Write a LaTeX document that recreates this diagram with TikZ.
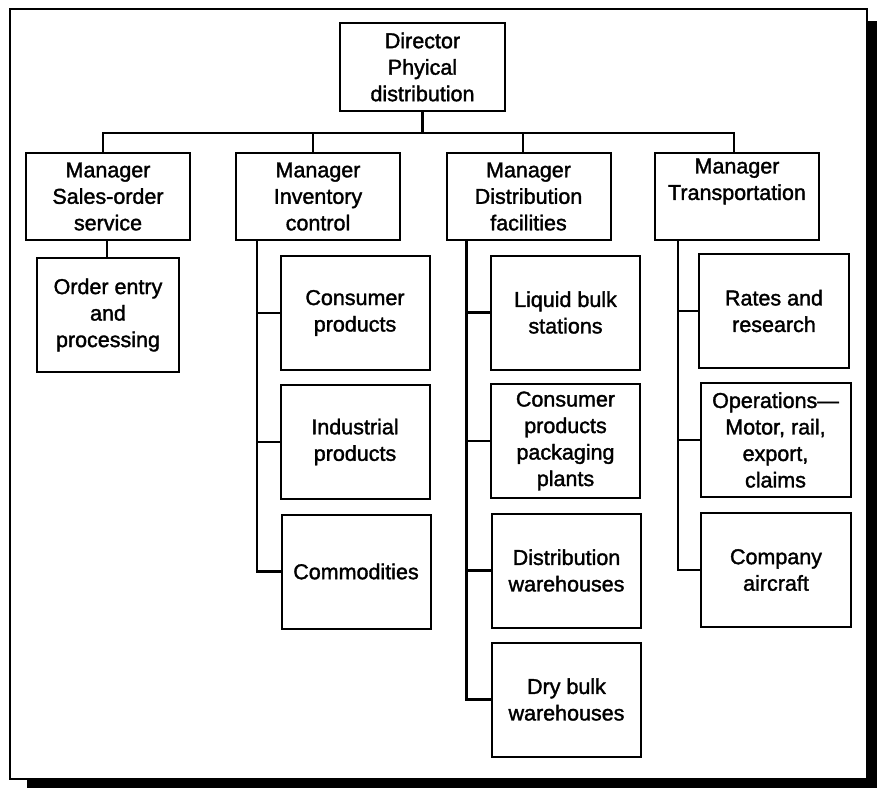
\documentclass[tikz,border=0pt]{standalone}
\usepackage{fontspec}
\newfontfamily\chartfont{Liberation Sans}[BoldFont={Liberation Sans},BoldFeatures={FakeBold=1.6}]
\begin{document}
\begin{tikzpicture}[x=1pt,y=-1pt,
  every node/.style={font=\chartfont\bfseries\fontsize{21.5}{26.5}\selectfont},
  box/.style={draw=black,line width=2pt,fill=white,inner sep=0pt,align=center},
  mgr/.style={box,minimum width=164pt,minimum height=87pt},
  unit/.style={box,minimum width=149pt,minimum height=114pt},
  link/.style={draw=black,line width=2.6pt,line cap=rect}]
\useasboundingbox (0,0) rectangle (877,788);
% frame with drop shadow
\fill[black] (27,21) rectangle (877,788);
\draw[line width=2pt,fill=white] (10,9) rectangle (867,779);

% top of the hierarchy
\node[box,minimum width=165pt,minimum height=88pt] (dir) at (422.5,67) {Director\\Phyical\\distribution};

% managers
\node[mgr] (sales) at (108,196.5) {Manager\\Sales-order\\service};
\node[mgr] (inv)   at (318,196.5) {Manager\\Inventory\\control};
\node[mgr] (fac)   at (528.5,196.5) {Manager\\Distribution\\facilities};
\node[mgr] (trn)   at (737,196.5) {Manager\\Transportation\\\strut};

% sales-order service
\node[box,minimum width=142pt,minimum height=114pt] (order) at (108,315) {Order entry\\and\\processing};

% inventory control
\node[unit] (inv1) at (355,313)   {Consumer\\products};
\node[unit] (inv2) at (355,442)   {Industrial\\products};
\node[unit] (inv3) at (356,571.5) {Commodities};

% distribution facilities
\node[unit] (fac1) at (565.5,312.5) {Liquid bulk\\stations};
\node[unit] (fac2) at (565.5,441)   {Consumer\\products\\packaging\\plants};
\node[unit] (fac3) at (566.5,570.5) {Distribution\\warehouses};
\node[unit] (fac4) at (566.5,699.5) {Dry bulk\\warehouses};

% transportation
\node[unit,minimum width=150pt] (trn1) at (774,311) {Rates and\\research};
\node[unit,minimum width=150pt] (trn2) at (775.5,440) {Operations—\\Motor, rail,\\export,\\claims};
\node[unit,minimum width=150pt] (trn3) at (776,570) {Company\\aircraft};

% connectors: director to managers
\coordinate (bus) at (422.5,133);
\draw[link] (dir.south) -- (bus);
\draw[link] ([xshift=-5pt]sales.north) |- (bus) -| ([xshift=-3pt]trn.north);
\draw[link] ([xshift=-5pt]inv.north) -- ([xshift=-5pt]inv.north |- bus);
\draw[link] ([xshift=-5.5pt]fac.north) -- ([xshift=-5.5pt]fac.north |- bus);

% connectors: managers to units
\draw[link] ([xshift=-1pt]sales.south) -- ([xshift=-1pt]order.north);
\draw[link] ([xshift=22pt]inv.south west) |- (inv3.west);
\draw[link] ([xshift=22pt]inv.south west) |- (inv1.west);
\draw[link] ([xshift=22pt]inv.south west) |- (inv2.west);
\draw[link] ([xshift=21pt]fac.south west) |- (fac4.west);
\draw[link] ([xshift=21pt]fac.south west) |- (fac1.west);
\draw[link] ([xshift=21pt]fac.south west) |- (fac2.west);
\draw[link] ([xshift=21pt]fac.south west) |- (fac3.west);
\draw[link] ([xshift=24pt]trn.south west) |- (trn3.west);
\draw[link] ([xshift=24pt]trn.south west) |- (trn1.west);
\draw[link] ([xshift=24pt]trn.south west) |- (trn2.west);
\end{tikzpicture}
\end{document}
